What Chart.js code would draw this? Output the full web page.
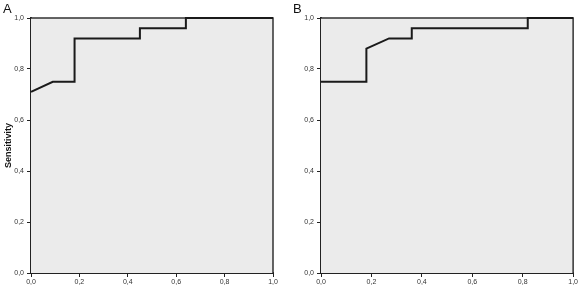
<!DOCTYPE html>
<html>
<head>
<meta charset="utf-8">
<script src="https://cdn.jsdelivr.net/npm/chart.js@4"></script>
<style>
  body { margin: 0; background: #fff; }
  #wrap { position: relative; width: 579px; height: 295px; }
  canvas { position: absolute; top: 0; }
</style>
</head>
<body>
<div id="wrap">
  <canvas id="rocA" width="290" height="295" style="left:0"></canvas>
  <canvas id="rocB" width="289" height="295" style="left:290px"></canvas>
</div>
<script>
// ROC curves, 1 - specificity vs sensitivity
const fprA = [0, 0.09, 0.18, 0.18, 0.45, 0.45, 0.64, 0.64, 1.0];
const sensA = [0.71, 0.75, 0.75, 0.92, 0.92, 0.96, 0.96, 1.0, 1.0];
const fprB = [0, 0.18, 0.18, 0.27, 0.36, 0.36, 0.82, 0.82, 1.0];
const sensB = [0.75, 0.75, 0.88, 0.92, 0.92, 0.96, 0.96, 1.0, 1.0];
const tickLabels = ['0,0', '0,2', '0,4', '0,6', '0,8', '1,0'];

const tickFont = { family: 'Liberation Sans, Arial, sans-serif', size: 7 };

// grey plot background + frame on top/right
const plotFrame = {
    id: 'plotFrame',
    beforeDatasetsDraw(chart) {
        const { ctx, chartArea: a } = chart;
        ctx.save();
        ctx.fillStyle = '#ebebeb';
        ctx.fillRect(a.left, a.top, a.right - a.left, a.bottom - a.top);
        ctx.strokeStyle = '#333';
        ctx.lineWidth = 1.5;
        ctx.beginPath();
        ctx.moveTo(a.left, a.top);
        ctx.lineTo(a.right, a.top);
        ctx.lineTo(a.right, a.bottom);
        ctx.stroke();
        ctx.restore();
    }
};

function makeRoc(canvasId, letter, xs, ys, rightPad, showTitle) {
    const points = xs.map((x, i) => ({ x: x, y: ys[i] }));
    return new Chart(document.getElementById(canvasId), {
        type: 'scatter',
        data: {
            datasets: [{
                data: points,
                showLine: true,
                borderColor: '#1a1a1a',
                borderWidth: 2,
                pointRadius: 0,
                tension: 0,
                clip: false
            }]
        },
        options: {
            responsive: false,
            animation: false,
            layout: { padding: { left: 3, right: rightPad, top: 0, bottom: 0 } },
            plugins: {
                legend: { display: false },
                tooltip: { enabled: false },
                title: {
                    display: true,
                    text: letter,
                    align: 'start',
                    color: '#111',
                    font: { family: 'Liberation Sans, Arial, sans-serif', size: 13, weight: 'normal' },
                    padding: { top: 1.5, bottom: 0.9 }
                }
            },
            scales: {
                x: {
                    type: 'linear',
                    min: 0,
                    max: 1,
                    afterFit: (scale) => { scale.height = 22; },
                    border: { display: true, color: '#222', width: 2 },
                    grid: { display: true, drawOnChartArea: false, drawTicks: true, tickLength: 4, color: '#222' },
                    ticks: {
                        stepSize: 0.2,
                        padding: 1,
                        color: '#333',
                        font: tickFont,
                        maxRotation: 0,
                        callback: (v, i) => tickLabels[i]
                    }
                },
                y: {
                    type: 'linear',
                    min: 0,
                    max: 1,
                    afterFit: (scale) => { scale.width = 28; },
                    border: { display: true, color: '#222', width: 2 },
                    grid: { display: true, drawOnChartArea: false, drawTicks: true, tickLength: 4, color: '#222' },
                    title: {
                        display: showTitle,
                        text: 'Sensitivity',
                        color: '#111',
                        font: { family: 'Liberation Sans, Arial, sans-serif', size: 9, weight: 'bold' },
                        padding: { top: 0, bottom: 0 }
                    },
                    ticks: {
                        stepSize: 0.2,
                        padding: 3,
                        color: '#333',
                        font: tickFont,
                        callback: (v, i) => tickLabels[i]
                    }
                }
            }
        },
        plugins: [plotFrame]
    });
}

makeRoc('rocA', 'A', fprA, sensA, 17, true);
makeRoc('rocB', 'B', fprB, sensB, 0, false);
</script>
</body>
</html>
